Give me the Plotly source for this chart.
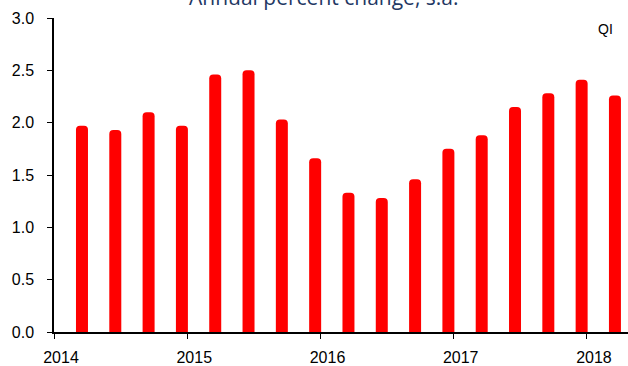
import plotly.graph_objects as go

years = [2014, 2014, 2014, 2014, 2015, 2015, 2015, 2015, 2016, 2016, 2016, 2016,
         2017, 2017, 2017, 2017, 2018]
quarters = [1, 2, 3, 4, 1, 2, 3, 4, 1, 2, 3, 4, 1, 2, 3, 4, 1]
values = [1.97, 1.93, 2.10, 1.97, 2.46, 2.50, 2.03, 1.66, 1.33, 1.28, 1.46, 1.75,
          1.88, 2.15, 2.28, 2.41, 2.26]
year_ticks = [2014, 2015, 2016, 2017, 2018]
y_ticks = [0.0, 0.5, 1.0, 1.5, 2.0, 2.5, 3.0]

x_pos = [y + 0.21 + 0.25 * (q - 1) for y, q in zip(years, quarters)]

fig = go.Figure()
fig.add_trace(go.Bar(
    x=x_pos, y=values, width=0.09,
    marker=dict(color="#FF0000", line=dict(width=0), cornerradius=4),
    hoverinfo="y",
))

fig.update_layout(
    width=628, height=366,
    margin=dict(l=54, r=0, t=18, b=31),
    paper_bgcolor="white", plot_bgcolor="white",
    showlegend=False,
    font=dict(family="Liberation Sans, Arial, sans-serif", size=16, color="#000000"),
    xaxis=dict(
        range=[2014, 2018.308],
        tickvals=year_ticks, ticktext=[str(t) for t in year_ticks],
        ticks="outside", ticklen=5, tickcolor="black",
        showline=True, linecolor="black", linewidth=1.5,
        showgrid=False, zeroline=False,
        tickfont=dict(size=16),
        ticklabelshift=7, ticklabelstandoff=5,
    ),
    yaxis=dict(
        range=[0, 3.0],
        tickvals=y_ticks, ticktext=[f"{v:.1f}" for v in y_ticks],
        ticks="outside", ticklen=5, tickcolor="black",
        showline=True, linecolor="black", linewidth=1.5,
        showgrid=False, zeroline=False,
        tickfont=dict(size=16),
        ticklabelstandoff=10,
    ),
    annotations=[
        dict(text="Annual percent change, s.a.", xref="paper", yref="paper",
             x=(324 - 54) / 574, y=1 + 21 / 317, xanchor="center", yanchor="middle",
             showarrow=False,
             font=dict(family="Open Sans, sans-serif", size=21, color="#1F3864")),
        dict(text="QI", xref="paper", yref="paper",
             x=(605 - 54) / 574, y=1 - (29 - 18) / 317, xanchor="center", yanchor="middle",
             showarrow=False, font=dict(size=14, color="#000000")),
    ],
)

fig.write_html("out.html")
